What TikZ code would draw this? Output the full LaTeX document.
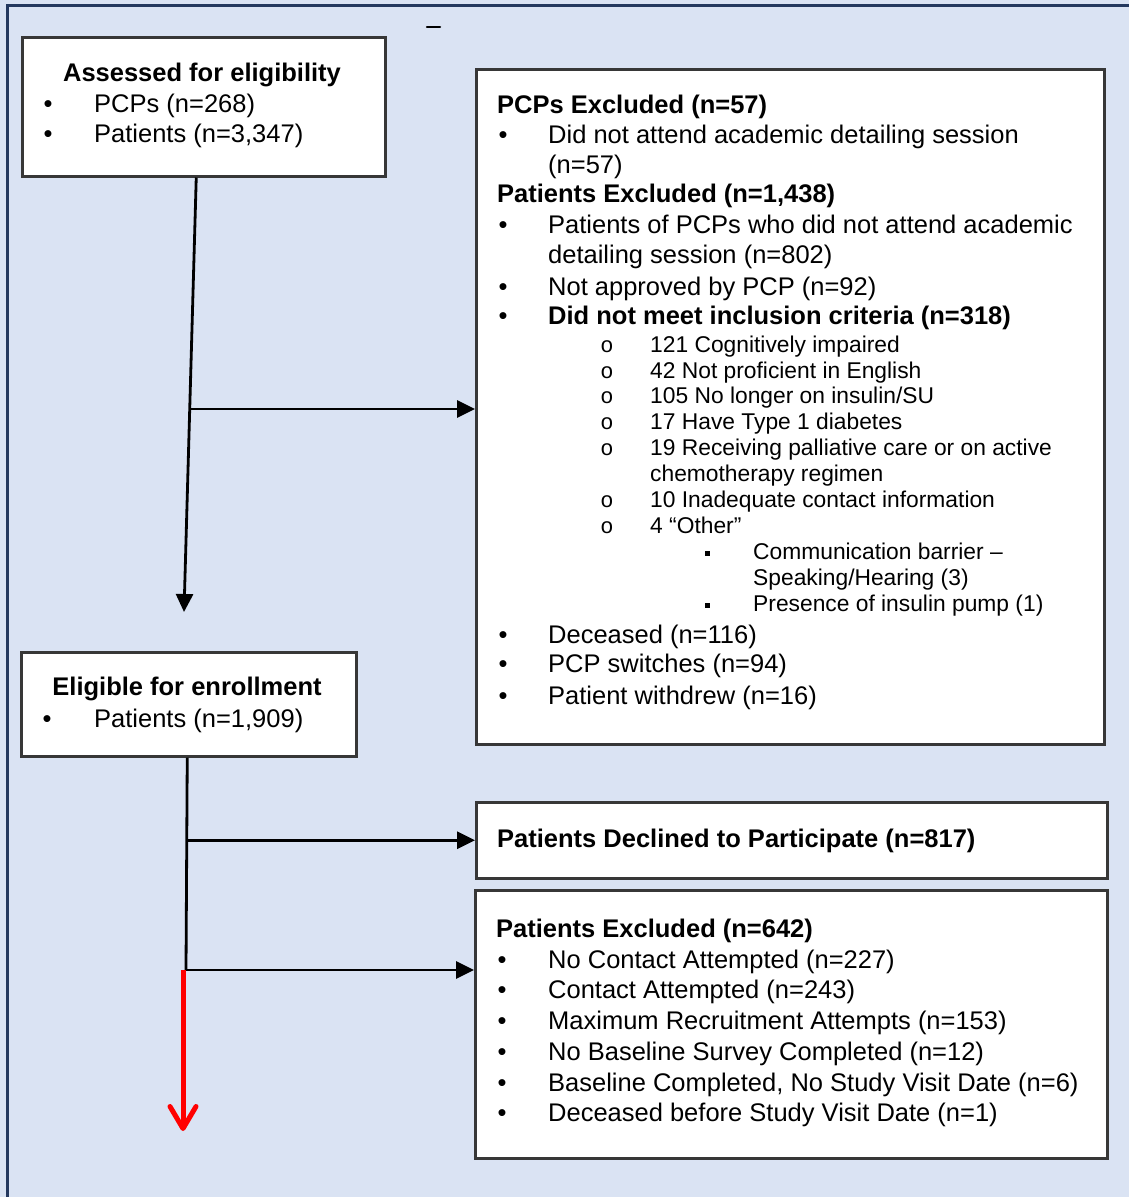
\documentclass[tikz,border=0pt]{standalone}
\usepackage{fontspec}
\setmainfont{Liberation Sans}
\newfontfamily\bulmono{Liberation Mono}
\usetikzlibrary{arrows.meta}
\definecolor{bgblue}{RGB}{218,227,243}
\definecolor{navyline}{RGB}{36,56,94}
\definecolor{boxline}{RGB}{55,55,55}
\tikzset{
  box/.style={draw=boxline, line width=2.5pt, fill=white, anchor=north west, inner sep=0pt},
  main/.style={font=\fontsize{25.5}{30}\selectfont, anchor=base west, inner sep=0pt},
  head/.style={font=\fontsize{25.5}{30}\selectfont\bfseries, anchor=base west, inner sep=0pt},
  sub/.style={font=\fontsize{22.8}{26}\selectfont, anchor=base west, inner sep=0pt},
  bul/.style={font=\fontsize{25.5}{30}\selectfont, anchor=center, inner sep=0pt},
  subbul/.style={font=\bulmono\fontsize{22}{26}\selectfont, anchor=base, inner sep=0pt},
  sqbul/.style={anchor=center, inner sep=0pt},
  conn/.style={line width=2.8pt, black},
  flow/.style={conn, -{Triangle[length=18pt,width=17pt]}},
  redarrow/.style={line width=5pt, red, -{Straight Barb[length=22pt,width=26pt,round]}},
}
\newcommand\itm[5]{%
  \node[bul] (#1b) at (#2,#4-5) {•};
  \node[main] (#1) at (#3,#4) {#5};}
\newcommand\subitm[5]{%
  \node[subbul] (#1b) at (#2,#4) {o};
  \node[sub] (#1) at (#3,#4) {#5};}
\newcommand\subsubitm[5]{%
  \node[sqbul] (#1b) at (#2,#4-6) {\rule{5pt}{5pt}};
  \node[sub] (#1) at (#3,#4) {#5};}
\begin{document}
\begin{tikzpicture}[x=1pt,y=-1pt]
\fill[bgblue] (0,0) rectangle (1129,1197);
\useasboundingbox (0,0) rectangle (1129,1197);
\draw[navyline, line width=3pt] (7,1197) -- (7,5) -- (1129,5);
\draw[line width=2.5pt, line cap=round] (427,27) -- (440,27);

% boxes
\node[box, minimum width=363pt, minimum height=139pt] (A) at (21,36) {};
\node[box, minimum width=628pt, minimum height=675pt] (B) at (475,68) {};
\node[box, minimum width=335pt, minimum height=104pt] (C) at (20,651) {};
\node[box, minimum width=631pt, minimum height=76pt] (D) at (475,801) {};
\node[box, minimum width=632pt, minimum height=268pt] (E) at (474,889) {};

% box A
\node[head, anchor=base] (A0) at (202,81) {Assessed for eligibility};
\itm{A1}{48}{94}{112}{PCPs (n=268)}
\itm{A2}{48}{94}{142}{Patients (n=3,347)}

% box B
\node[head] (B0) at (497,113) {PCPs Excluded (n=57)};
\itm{B1}{503}{548}{143}{Did not attend academic detailing session}
\node[main] (B1c) at (548,173) {(n=57)};
\node[head] (B2) at (497,202) {Patients Excluded (n=1,438)};
\itm{B3}{503}{548}{233}{Patients of PCPs who did not attend academic}
\node[main] (B3c) at (548,263) {detailing session (n=802)};
\itm{B4}{503}{548}{295}{Not approved by PCP (n=92)}
\itm{B5}{503}{548}{324}{\bfseries Did not meet inclusion criteria (n=318)}
\subitm{S1}{607}{650}{352}{121 Cognitively impaired}
\subitm{S2}{607}{650}{378}{42 Not proficient in English}
\subitm{S3}{607}{650}{403}{105 No longer on insulin/SU}
\subitm{S4}{607}{650}{429}{17 Have Type 1 diabetes}
\subitm{S5}{607}{650}{455}{19 Receiving palliative care or on active}
\node[sub] (S5c) at (650,481) {chemotherapy regimen};
\subitm{S6}{607}{650}{507}{10 Inadequate contact information}
\subitm{S7}{607}{650}{533}{4 “Other”}
\subsubitm{T1}{707}{753}{559}{Communication barrier –}
\node[sub] (T1c) at (753,585) {Speaking/Hearing (3)};
\subsubitm{T2}{707}{753}{611}{Presence of insulin pump (1)}
\itm{B6}{503}{548}{643}{Deceased (n=116)}
\itm{B7}{503}{548}{672}{PCP switches (n=94)}
\itm{B8}{503}{548}{704}{Patient withdrew (n=16)}

% box C
\node[head, anchor=base] (C0) at (187,695) {Eligible for enrollment};
\itm{C1}{47}{94}{727}{Patients (n=1,909)}

% box D
\node[head] (D0) at (497,847) {Patients Declined to Participate (n=817)};

% box E
\node[head] (E0) at (496,937) {Patients Excluded (n=642)};
\itm{E1}{502}{548}{968}{No Contact Attempted (n=227)}
\itm{E2}{502}{548}{998}{Contact Attempted (n=243)}
\itm{E3}{502}{548}{1029}{Maximum Recruitment Attempts (n=153)}
\itm{E4}{502}{548}{1060}{No Baseline Survey Completed (n=12)}
\itm{E5}{502}{548}{1091}{Baseline Completed, No Study Visit Date (n=6)}
\itm{E6}{502}{548}{1121}{Deceased before Study Visit Date (n=1)}

% connectors
\path (A.south) ++(-7.5,0) coordinate (a0);
\coordinate (a1) at (184,612);
\coordinate (j1) at (189,409);
\draw[flow] (a0) -- (a1);
\draw[flow] (j1) -- (j1 -| B.west);
\path (C.south) ++(-1.5,0) coordinate (c0);
\coordinate (c1) at (186,970);
\draw[conn] (c0) -- (c1);
\draw[flow] (c0 |- D.west) -- (D.west);
\draw[flow] (c1) -- (c1 -| E.west);
\coordinate (r0) at (183,970);
\coordinate (r1) at (183,1131);
\draw[redarrow] (r0) -- (r1);
\end{tikzpicture}
\end{document}
